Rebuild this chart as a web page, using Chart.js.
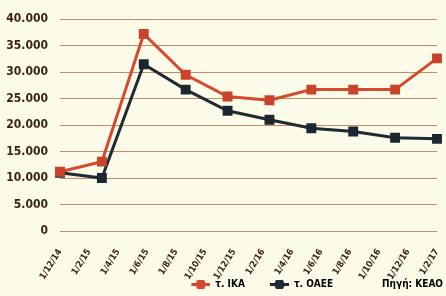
<!DOCTYPE html>
<html>
<head>
<meta charset="utf-8">
<script src="https://cdn.jsdelivr.net/npm/chart.js@4.4.1/dist/chart.umd.min.js"></script>
<style>
  html, body { margin: 0; padding: 0; background: #fcfbea; }
  #wrap { width: 446px; height: 296px; position: relative; }
</style>
</head>
<body>
<div id="wrap"><canvas id="chart"></canvas></div>
<script>
// axis tick labels (every two months)
const tickLabels = ['1/12/14', '1/2/15', '1/4/15', '1/6/15', '1/8/15', '1/10/15', '1/12/15',
    '1/2/16', '1/4/16', '1/6/16', '1/8/16', '1/10/16', '1/12/16', '1/2/17'];
// measurement points (spread evenly across the same span)
const pointLabels = ['12/14', '3/15', '6/15', '9/15', '12/15', '3/16', '6/16', '9/16', '12/16', '2/17'];
const ika = [11200, 13100, 37200, 29500, 25400, 24700, 26700, 26700, 26700, 32600];
const oaee = [11000, 10000, 31500, 26700, 22700, 21000, 19400, 18800, 17600, 17400];
const source = 'Πηγή: ΚΕΑΟ';

const FONT = "'DejaVu Sans Condensed', 'DejaVu Sans', sans-serif";
const TEXT = '#3b2314';
const RED = '#d44a2c';
const DARK = '#1f2a33';

// legend swatch: blank gap on the left, then a line with a block on it
function legendIcon(color) {
    const c = document.createElement('canvas');
    c.width = 40; c.height = 10;
    const g = c.getContext('2d');
    if (color) {
        g.fillStyle = color;
        g.fillRect(21, 4, 19, 3);
        g.beginPath();
        g.moveTo(25, 5.5); g.lineTo(27, 1); g.lineTo(34, 1); g.lineTo(36, 5.5);
        g.lineTo(34, 10); g.lineTo(27, 10); g.closePath();
        g.fill();
    }
    return c;
}

const bg = {
    id: 'bg',
    beforeDraw(chart) {
        const ctx = chart.ctx;
        ctx.save();
        ctx.fillStyle = '#fcfbea';
        ctx.fillRect(0, 0, chart.width, chart.height);
        ctx.restore();
    },
    afterLayout(chart) {
        // push legend towards the bottom right corner
        chart.legend.left += 10;
        chart.legend.right += 10;
        chart.legend.top += 4;
        chart.legend.bottom += 4;
        // let the rotated date labels run into the legend strip
        chart.scales.xTicks.bottom += 12;
    }
};

new Chart(document.getElementById('chart'), {
    type: 'line',
    data: {
        labels: pointLabels,
        datasets: [
            {
                label: 'τ. ΙΚΑ',
                data: ika,
                borderColor: RED,
                backgroundColor: '#c9432a',
                borderWidth: 3,
                pointStyle: 'rect',
                pointRadius: 7,
                pointBorderWidth: 0,
                tension: 0
            },
            {
                label: 'τ. ΟΑΕΕ',
                data: oaee,
                borderColor: DARK,
                backgroundColor: '#1c2630',
                borderWidth: 3,
                pointStyle: 'rect',
                pointRadius: 7,
                pointBorderWidth: 0,
                tension: 0
            }
        ]
    },
    options: {
        responsive: true,
        maintainAspectRatio: false,
        animation: false,
        layout: { padding: { top: 16, right: 9, left: 2, bottom: 1 } },
        plugins: {
            tooltip: { enabled: false },
            legend: {
                position: 'bottom',
                align: 'end',
                labels: {
                    usePointStyle: true,
                    pointStyleWidth: 40,
                    padding: 4,
                    color: TEXT,
                    font: { family: FONT, size: 10, weight: 'bold' },
                    generateLabels(chart) {
                        const items = chart.data.datasets.map((ds, i) => ({
                            text: ds.label,
                            pointStyle: legendIcon(ds.borderColor),
                            fillStyle: ds.borderColor,
                            strokeStyle: ds.borderColor,
                            lineWidth: 0,
                            hidden: false,
                            datasetIndex: i
                        }));
                        items.push({
                            text: source,
                            pointStyle: legendIcon(null),
                            fillStyle: 'transparent',
                            strokeStyle: 'transparent',
                            lineWidth: 0,
                            hidden: false
                        });
                        return items;
                    }
                }
            }
        },
        scales: {
            x: {
                display: false,
                offset: false
            },
            xTicks: {
                type: 'category',
                labels: tickLabels,
                position: 'bottom',
                offset: false,
                grid: { display: false },
                border: { display: false },
                afterFit(scale) {
                    scale.height = 40;
                    scale.paddingLeft = 0;
                    scale.paddingRight = 0;
                },
                ticks: {
                    autoSkip: false,
                    maxRotation: 58,
                    minRotation: 58,
                    padding: 8,
                    color: TEXT,
                    font: { family: FONT, size: 9, weight: 'bold' }
                }
            },
            y: {
                min: 0,
                max: 40000,
                afterFit(scale) { scale.width = 58; },
                ticks: {
                    stepSize: 5000,
                    padding: 12,
                    color: TEXT,
                    font: { family: FONT, size: 12, weight: 'bold' },
                    callback: v => v.toLocaleString('de-DE')
                },
                grid: { color: 'rgba(185, 112, 62, 0.8)', lineWidth: 1, drawTicks: false },
                border: { display: false }
            }
        }
    },
    plugins: [bg]
});
</script>
</body>
</html>
